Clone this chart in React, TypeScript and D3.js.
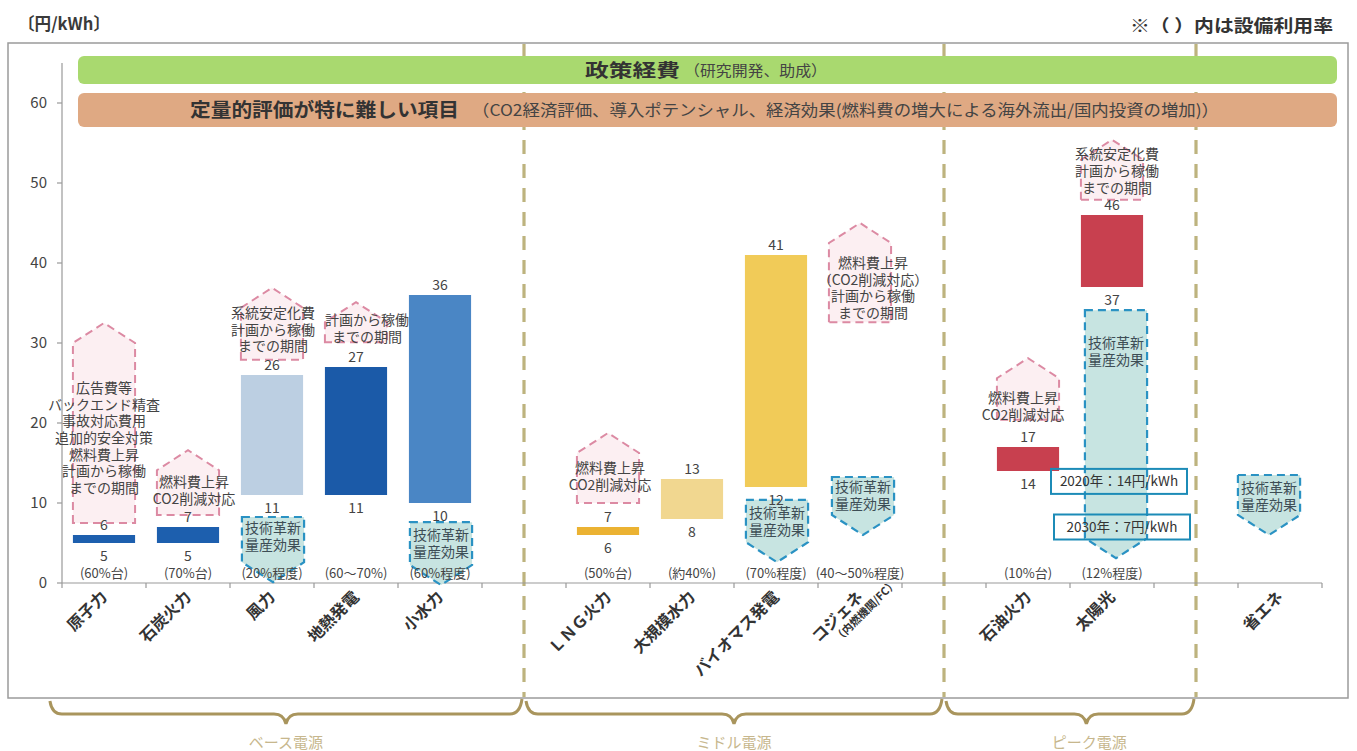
import React from 'react';
import * as d3 from 'd3';

// ---------- data ----------
const categories = ['原子力', '石炭火力', '風力', '地熱発電', '小水力', '_gap1', 'ＬＮＧ火力', '大規模水力', 'バイオマス発電', 'コジェネ', '_gap2', '石油火力', '太陽光', '_gap3', '省エネ'];
const barCategories = ['原子力', '石炭火力', '風力', '地熱発電', '小水力', 'ＬＮＧ火力', '大規模水力', 'バイオマス発電', '石油火力', '太陽光'];
const barLow = [5, 5, 11, 11, 10, 6, 8, 12, 14, 37];
const barHigh = [6, 7, 26, 27, 36, 7, 13, 41, 17, 46];
const barColors = ['#1d5fae', '#1d5fae', '#bccfe2', '#1b5aa8', '#4a86c5', '#ebb232', '#f1d790', '#f1cb58', '#c8404f', '#c8404f'];

const utilCategories = ['原子力', '石炭火力', '風力', '地熱発電', '小水力', 'ＬＮＧ火力', '大規模水力', 'バイオマス発電', 'コジェネ', '石油火力', '太陽光'];
const utilLabels = ['(60%台)', '(70%台)', '(20%程度)', '(60～70%)', '(60%程度)', '(50%台)', '(約40%)', '(70%程度)', '(40～50%程度)', '(10%台)', '(12%程度)'];

const yTicks = [0, 10, 20, 30, 40, 50, 60];
const dividerCategories = ['_gap1', '_gap2', '_gap3'];

const groupLabels = ['ベース電源', 'ミドル電源', 'ピーク電源'];
const groupTipFrac = [0.5, 0.5, 0.565];

// pink "upward" cost-increase arrows
const upCats = ['原子力', '石炭火力', '風力', '地熱発電', 'ＬＮＧ火力', 'コジェネ', '石油火力', '太陽光'];
const upTop = [32.5, 16.6, 36.9, 35.1, 18.75, 45, 28.1, 55.4];
const upBottom = [7.5, 8.5, 27.9, 30.1, 10, 32.6, 20.4, 47.9];
const upTextY = [24.4, 12.6, 33.75, 32.9, 14.4, 40, 23.1, 53.6];
const upTextDx = [0, 6, 1, 11, 2, 13, -5, 5];
const upText = [
  ['広告費等', 'バックエンド精査', '事故対応費用', '追加的安全対策', '燃料費上昇', '計画から稼働', 'までの期間'],
  ['燃料費上昇', 'CO2削減対応'],
  ['系統安定化費', '計画から稼働', 'までの期間'],
  ['計画から稼働', 'までの期間'],
  ['燃料費上昇', 'CO2削減対応'],
  ['燃料費上昇', '（CO2削減対応）', '計画から稼働', 'までの期間'],
  ['燃料費上昇', 'CO2削減対応'],
  ['系統安定化費', '計画から稼働', 'までの期間'],
];

// teal "downward" cost-reduction arrows
const downCats = ['風力', '小水力', 'バイオマス発電', 'コジェネ', '太陽光', '省エネ'];
const downTop = [8.25, 7.6, 10.4, 13.25, 34.1, 13.5];
const downTip = [0.1, -0.25, 2.6, 6, 3.1, 6];
const downTextY = [6.9, 6.0, 8.75, 12.0, 30.0, 11.9];
const downDx = [1, 1, 1, 3, 4, -11];
const downText = ['技術革新', '量産効果'];

// solar cost targets
const targetLabels = ['2020年：14円/kWh', '2030年：7円/kWh'];
const targetCenters = [12.7, 7.0];

// ---------- layout ----------
const W = 1357;
const H = 751;
const FONT = "'Noto Sans CJK JP', 'Noto Sans', sans-serif";

export default function App() {
  const x = d3.scaleBand<string>().domain(categories).range([62, 1322]).paddingInner(0.26).paddingOuter(0.13);
  const y = d3.scaleLinear().domain([0, 60]).range([583, 103]);
  const step = x.step();
  const bw = x.bandwidth();
  const cx = (c: string) => (x(c) as number) + bw / 2;

  const divX = dividerCategories.map(cx);
  const braceRanges: [number, number][] = [
    [(x('原子力') as number) - 25, divX[0]],
    [divX[0], divX[1]],
    [divX[1], divX[2]],
  ];

  const bracePath = (x0: number, x1: number, xm: number, yTop: number, h: number) => {
    const ym = yTop + h * 0.5;
    const r = 12;
    return `M${x0},${yTop - 3} Q${x0 + 2},${ym} ${x0 + r},${ym} L${xm - r},${ym} Q${xm - 2},${ym} ${xm},${yTop + h} Q${xm + 2},${ym} ${xm + r},${ym} L${x1 - r},${ym} Q${x1 - 2},${ym} ${x1},${yTop - 5}`;
  };

  const upPath = (x0: number, x1: number, top: number, bottom: number) => {
    const sh = top + 20;
    const m = (x0 + x1) / 2;
    return `M${x0},${bottom} L${x0},${sh} L${m},${top} L${x1},${sh} L${x1},${bottom} Z`;
  };
  const downPath = (x0: number, x1: number, top: number, tip: number) => {
    const sh = tip - 20;
    const m = (x0 + x1) / 2;
    return `M${x0},${top} L${x1},${top} L${x1},${sh} L${m},${tip} L${x0},${sh} Z`;
  };

  const ticksX = d3.range(categories.length + 1).map((i) => 62 + i * step);

  return (
    <div style={{ position: 'absolute', left: 0, top: 0 }}>
      <svg width={W} height={H} style={{ display: 'block', fontFamily: FONT }}>
        <rect x={0} y={0} width={W} height={H} fill="#ffffff" />
        {/* titles */}
        <text x={18} y={30} fontSize={17} fontWeight="bold" fill="#3a3a3a" textLength={92} lengthAdjust="spacingAndGlyphs">〔円/kWh〕</text>
        <text x={1130} y={32} fontSize={17} fontWeight="bold" fill="#333" textLength={203} lengthAdjust="spacingAndGlyphs">※（ ）内は設備利用率</text>

        {/* frame */}
        <rect x={8} y={43} width={1340} height={655} fill="none" stroke="#9b9b9b" strokeWidth={1.5} />

        {/* dividers */}
        {divX.map((dx, i) => (
          <line key={'div' + i} x1={dx} x2={dx} y1={44} y2={697} stroke="#bdb37e" strokeWidth={3.2} strokeDasharray="14,10" />
        ))}

        {/* banners */}
        <rect x={78} y={56} width={1259} height={28} rx={6} fill="#a9d96f" />
        <text x={585} y={77} fontSize={18} fontWeight="bold" fill="#333" textLength={95} lengthAdjust="spacingAndGlyphs">政策経費</text>
        <text x={684} y={76} fontSize={15} fill="#444" textLength={143} lengthAdjust="spacingAndGlyphs">（研究開発、助成）</text>
        <rect x={78} y={93} width={1259} height={34} rx={6} fill="#dfa983" />
        <text x={190} y={117} fontSize={19} fontWeight="bold" fill="#333" textLength={269} lengthAdjust="spacingAndGlyphs">定量的評価が特に難しい項目</text>
        <text x={472} y={116} fontSize={16} fill="#444" textLength={747} lengthAdjust="spacingAndGlyphs">（CO2経済評価、導入ポテンシャル、経済効果(燃料費の増大による海外流出/国内投資の増加)）</text>

        {/* y axis */}
        <line x1={62} x2={62} y1={63} y2={583} stroke="#999" strokeWidth={1.2} />
        {yTicks.map((t) => (
          <g key={'yt' + t}>
            <line x1={57} x2={62} y1={y(t)} y2={y(t)} stroke="#999" strokeWidth={1.2} />
            <text x={47} y={y(t) + 5} fontSize={15} fill="#444" textAnchor="end">{t}</text>
          </g>
        ))}

        {/* x axis */}
        <line x1={62} x2={1322} y1={583} y2={583} stroke="#999" strokeWidth={1.2} />
        {ticksX.map((tx, i) => (
          <line key={'xt' + i} x1={tx} x2={tx} y1={583} y2={588} stroke="#999" strokeWidth={1.2} />
        ))}

        {/* pink up arrows */}
        {upCats.map((c, i) => {
          const x0 = x(c) as number;
          return (
            <path key={'up' + i} d={upPath(x0, x0 + bw, y(upTop[i]), y(upBottom[i]))} fill="#fbecf0" fillOpacity={0.85} stroke="#dc8aa3" strokeWidth={2} strokeDasharray="8,5" />
          );
        })}

        {/* teal down arrows */}
        {downCats.map((c, i) => {
          const x0 = (x(c) as number) + downDx[i];
          return (
            <path key={'dn' + i} d={downPath(x0, x0 + bw, y(downTop[i]), y(downTip[i]))} fill="#c7e4e1" stroke="#2a92c3" strokeWidth={2.2} strokeDasharray="8,5" />
          );
        })}

        {/* bars */}
        {barCategories.map((c, i) => (
          <rect key={'bar' + i} x={x(c) as number} y={y(barHigh[i])} width={bw} height={y(barLow[i]) - y(barHigh[i])} fill={barColors[i]} />
        ))}

        {/* value labels */}
        {barCategories.map((c, i) => (
          <g key={'vl' + i} fontSize={14} fill="#444" textAnchor="middle">
            <text x={cx(c)} y={y(barHigh[i]) - 5}>{barHigh[i]}</text>
            <text x={cx(c)} y={y(barLow[i]) + 18}>{barLow[i]}</text>
          </g>
        ))}

        {/* up arrow texts */}
        {upCats.map((c, i) => (
          <g key={'ut' + i} fontSize={14} fill="#444" textAnchor="middle">
            {upText[i].map((s, j) => (
              <text key={j} x={cx(c) + upTextDx[i]} y={y(upTextY[i]) + 5 + j * 16.7}>{s}</text>
            ))}
          </g>
        ))}

        {/* down arrow texts */}
        {downCats.map((c, i) => (
          <g key={'dt' + i} fontSize={14} fill="#3d4d55" textAnchor="middle">
            {downText.map((s, j) => (
              <text key={j} x={cx(c) + downDx[i]} y={y(downTextY[i]) + 5 + j * 17}>{s}</text>
            ))}
          </g>
        ))}

        {/* solar targets */}
        {targetLabels.map((s, i) => {
          const c0 = cx('太陽光');
          const yc = y(targetCenters[i]);
          return (
            <g key={'tg' + i}>
              <rect x={c0 - 61 + i * 3} y={yc - 12.5} width={136} height={25} fill="none" stroke="#1c8bb7" strokeWidth={2} />
              <text x={c0 + 7 + i * 3} y={yc + 5} fontSize={13.5} fill="#333" textAnchor="middle">{s}</text>
            </g>
          );
        })}

        {/* utilization labels */}
        {utilCategories.map((c, i) => (
          <text key={'ul' + i} x={cx(c)} y={578} fontSize={13} fill="#444" textAnchor="middle">{utilLabels[i]}</text>
        ))}

        {/* x labels */}
        {categories.filter((c) => !c.startsWith('_')).map((c) => {
          const tx = cx(c) + 4;
          const ty = 598;
          if (c === 'コジェネ') {
            return (
              <g key={'xl' + c} transform={`translate(${tx},${ty}) rotate(-45)`}>
                <text x={0} y={0} fontSize={16} fontWeight="bold" fill="#333" textAnchor="end">コジェネ</text>
                <text x={34} y={14} fontSize={11} fontWeight="bold" fill="#333" textAnchor="end">（内燃機関/FC）</text>
              </g>
            );
          }
          return (
            <text key={'xl' + c} transform={`translate(${tx},${ty}) rotate(-45)`} fontSize={16} fontWeight="bold" fill="#333" textAnchor="end">{c}</text>
          );
        })}

        {/* braces */}
        {braceRanges.map(([a, b], i) => {
          const xm = a + (b - a) * groupTipFrac[i];
          return (
            <g key={'br' + i}>
              <path d={bracePath(a + 2, b - 2, xm, 704, 20)} fill="none" stroke="#a9955d" strokeWidth={3} />
              <text x={xm + (i === 2 ? 3 : 0)} y={748} fontSize={15} fill="#c7b78d" textAnchor="middle">{groupLabels[i]}</text>
            </g>
          );
        })}
      </svg>
    </div>
  );
}
